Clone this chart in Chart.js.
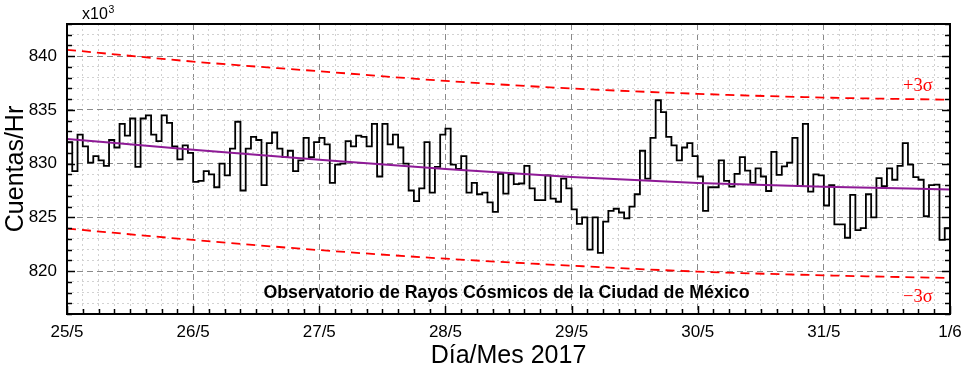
<!DOCTYPE html>
<html><head><meta charset="utf-8">
<script src="https://cdn.jsdelivr.net/npm/chart.js@4.4.0/dist/chart.umd.min.js"></script>
<style>html,body{margin:0;padding:0;background:#fff;overflow:hidden}#wrap{width:964px;height:375px}</style>
</head><body><div id="wrap"><canvas id="c" width="964" height="375"></canvas></div>
<script>
const dayLabels = ['25/5','26/5','27/5','28/5','29/5','30/5','31/5','1/6'];
const yTickLabels = [820, 825, 830, 835, 840];
const hourlyCounts = [
832.0, 829.3, 832.7, 831.6, 830.1, 830.7, 830.3, 829.8, 832.2, 831.5,
833.7, 832.6, 834.2, 829.7, 834.2, 834.5, 832.7, 832.1, 834.5, 833.8,
831.6, 830.4, 831.7, 831.0, 828.3, 828.4, 829.3, 829.0, 827.8, 830.0,
828.9, 831.4, 833.9, 827.5, 831.4, 832.5, 832.2, 828.0, 831.9, 832.9,
831.4, 830.6, 831.2, 829.3, 830.3, 832.4, 830.6, 832.0, 832.4, 831.8,
828.2, 829.9, 830.0, 832.1, 831.6, 832.6, 832.5, 831.6, 833.7, 828.8,
833.7, 831.8, 832.7, 831.5, 830.0, 827.5, 826.5, 827.7, 832.0, 827.3,
829.7, 832.7, 833.25, 829.9, 829.5, 830.7, 827.3, 828.2, 827.15, 827.3,
826.4, 825.5, 829.05, 827.2, 829.0, 828.1, 828.15, 829.8, 827.7, 826.6,
826.6, 828.9, 826.75, 826.45, 828.6, 827.7, 825.75, 824.4, 825.0, 822.0,
825.0, 821.7, 824.6, 825.6, 825.8, 825.45, 824.9, 826.0, 827.15, 831.2,
828.6, 832.4, 835.9, 834.8, 832.5, 831.7, 830.3, 831.5, 831.9, 830.7,
828.8, 825.6, 827.8, 827.8, 830.3, 828.4, 827.85, 829.05, 830.6, 829.35,
828.2, 829.55, 828.8, 827.45, 831.1, 828.95, 829.75, 830.1, 832.4, 827.9,
833.7, 827.4, 829.0, 828.9, 826.1, 828.0, 824.35, 824.35, 823.1, 827.1,
823.8, 824.0, 827.15, 825.0, 828.65, 827.9, 829.55, 828.5, 829.8, 831.9,
829.9, 828.75, 828.5, 825.1, 828.0, 828.05, 822.9, 824.0
];
const trendDaily = [832.3, 831.3, 830.35, 829.5, 828.75, 828.2, 827.85, 827.6];
const upper3Sigma = [840.6, 839.5, 838.6, 837.7, 837.0, 836.5, 836.15, 835.95];
const lower3Sigma = [823.95, 822.9, 821.95, 821.15, 820.5, 819.95, 819.6, 819.35];

const HOURS_PER_DAY = 24;
const stepData = hourlyCounts.map((v, i) => ({x: i, y: v}));
stepData.push({x: hourlyCounts.length, y: hourlyCounts[hourlyCounts.length - 1]});
const dailyPts = arr => arr.map((v, i) => ({x: i * HOURS_PER_DAY, y: v}));

const decor = {
  id: 'decor',
  afterDatasetsDraw(chart) {
    const {ctx, chartArea: a, scales: {x, y}} = chart;
    ctx.save();
    ctx.strokeStyle = '#000';
    ctx.lineWidth = 1.5;
    x.ticks.forEach(t => {
      const px = Math.round(x.getPixelForValue(t.value)) + 0.5;
      const len = t.value % HOURS_PER_DAY === 0 ? 8 : 5;
      ctx.beginPath(); ctx.moveTo(px, a.bottom); ctx.lineTo(px, a.bottom - len); ctx.stroke();
    });
    y.ticks.forEach(t => {
      const py = Math.round(y.getPixelForValue(t.value)) + 0.5;
      const len = t.value % 5 === 0 ? 8 : 5;
      ctx.beginPath(); ctx.moveTo(a.left, py); ctx.lineTo(a.left + len, py); ctx.stroke();
      ctx.beginPath(); ctx.moveTo(a.right, py); ctx.lineTo(a.right - len, py); ctx.stroke();
    });
    ctx.lineWidth = 2;
    ctx.strokeRect(a.left, a.top, a.right - a.left, a.bottom - a.top);

    ctx.fillStyle = '#000';
    ctx.textBaseline = 'alphabetic';
    ctx.textAlign = 'center';
    ctx.font = 'bold 17.8px "Liberation Sans", Arial, sans-serif';
    ctx.fillText('Observatorio de Rayos Cósmicos de la Ciudad de México', 506.5, a.bottom - 16);

    ctx.fillStyle = '#ff0000';
    ctx.textAlign = 'left';
    ctx.font = '18.5px "Liberation Serif", "Times New Roman", serif';
    ctx.textBaseline = 'middle';
    ctx.fillText('+3σ', a.right - 47, y.getPixelForValue(837.2));
    ctx.fillText('−3σ', a.right - 47, y.getPixelForValue(817.6));

    ctx.fillStyle = '#000';
    ctx.textBaseline = 'alphabetic';
    ctx.font = '16px "Liberation Sans", Arial, sans-serif';
    ctx.fillText('x10', 82, 19);
    ctx.font = '10.5px "Liberation Sans", Arial, sans-serif';
    ctx.fillText('3', 108.5, 12.5);

    ctx.font = '25px "Liberation Sans", Arial, sans-serif';
    ctx.textAlign = 'center';
    ctx.fillText('Día/Mes 2017', (a.left + a.right) / 2, 363);
    ctx.save();
    ctx.translate(23, (a.top + a.bottom) / 2);
    ctx.rotate(-Math.PI / 2);
    ctx.fillText('Cuentas/Hr', 0, 0);
    ctx.restore();
    ctx.restore();
  }
};

const gridColor = major => major ? '#8a8a8a' : '#d2d2d2';

new Chart(document.getElementById('c'), {
  type: 'line',
  data: {
    datasets: [
      {data: dailyPts(trendDaily), borderColor: '#8e1a96', borderWidth: 2, pointRadius: 0, cubicInterpolationMode: 'monotone', fill: false},
      {data: stepData, borderColor: '#000', borderWidth: 1.8, pointRadius: 0, stepped: true, fill: false},
      {data: dailyPts(upper3Sigma), borderColor: '#ff0000', borderWidth: 1.8, borderDash: [9, 6], pointRadius: 0, cubicInterpolationMode: 'monotone', fill: false},
      {data: dailyPts(lower3Sigma), borderColor: '#ff0000', borderWidth: 1.8, borderDash: [9, 6], pointRadius: 0, cubicInterpolationMode: 'monotone', fill: false}
    ]
  },
  options: {
    responsive: false,
    devicePixelRatio: 1,
    animation: false,
    layout: {padding: {top: 24, right: 14, left: 0, bottom: 0}},
    plugins: {legend: {display: false}, tooltip: {enabled: false}},
    scales: {
      x: {
        type: 'linear', min: 0, max: dayLabels.length * HOURS_PER_DAY - HOURS_PER_DAY,
        afterFit: s => { s.height = 61; s.paddingLeft = 0; s.paddingRight = 0; },
        ticks: {
          stepSize: 3, autoSkip: false, maxRotation: 0, padding: 8,
          color: '#000', font: {size: 17, family: '"Liberation Sans", Arial, sans-serif'},
          callback: v => (v % HOURS_PER_DAY === 0 ? dayLabels[v / HOURS_PER_DAY] : '')
        },
        grid: {
          drawTicks: false,
          color: c => gridColor(c.tick && c.tick.value % HOURS_PER_DAY === 0),
          lineWidth: 1
        },
        border: {display: false, dash: c => (c.tick && c.tick.value % HOURS_PER_DAY === 0) ? [6, 4] : [2, 3]}
      },
      y: {
        type: 'linear', min: 816, max: 843,
        afterFit: s => { s.width = 67; s.paddingTop = 0; s.paddingBottom = 0; },
        ticks: {
          stepSize: 1, autoSkip: false, padding: 10,
          color: '#000', font: {size: 17, family: '"Liberation Sans", Arial, sans-serif'},
          callback: v => (yTickLabels.includes(v) ? String(v) : '')
        },
        grid: {
          drawTicks: false,
          color: c => gridColor(c.tick && yTickLabels.includes(c.tick.value)),
          lineWidth: 1
        },
        border: {display: false, dash: c => (c.tick && yTickLabels.includes(c.tick.value)) ? [6, 4] : [2, 3]}
      }
    }
  },
  plugins: [decor]
});
</script></body></html>
